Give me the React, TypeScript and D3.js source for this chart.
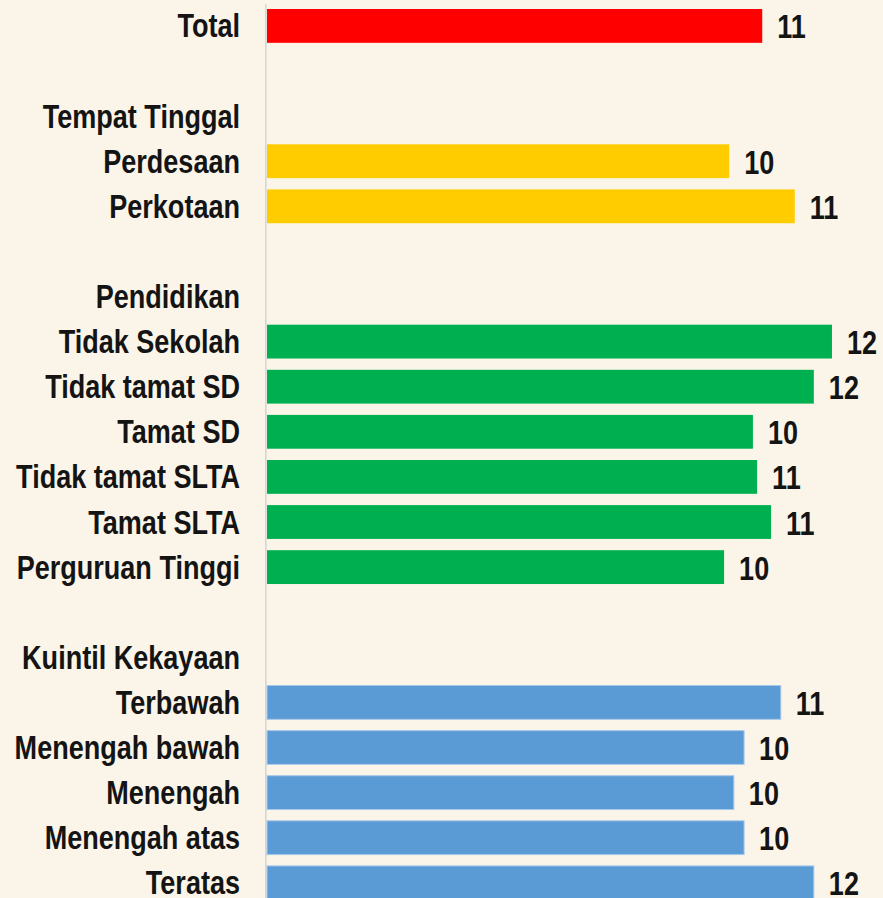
import React from "react";
import * as d3 from "d3";

const rowLabels = [
  "Total",
  "",
  "Tempat Tinggal",
  "Perdesaan",
  "Perkotaan",
  "",
  "Pendidikan",
  "Tidak Sekolah",
  "Tidak tamat SD",
  "Tamat SD",
  "Tidak tamat SLTA",
  "Tamat SLTA",
  "Perguruan Tinggi",
  "",
  "Kuintil Kekayaan",
  "Terbawah",
  "Menengah bawah",
  "Menengah",
  "Menengah atas",
  "Teratas",
];

// null = header / spacer rows (no bar)
const rowValues: (number | null)[] = [
  10.65, null, null, 9.94, 11.35, null, null,
  12.15, 11.76, 10.45, 10.54, 10.84, 9.83, null, null,
  11.05, 10.26, 10.04, 10.26, 11.76,
];

const rowGroups = [
  "total", "", "", "tempat", "tempat", "", "",
  "pend", "pend", "pend", "pend", "pend", "pend", "", "",
  "kuintil", "kuintil", "kuintil", "kuintil", "kuintil",
];

const groupColors: Record<string, string> = {
  total: "#FF0000",
  tempat: "#FFCC00",
  pend: "#00B050",
  kuintil: "#5B9BD5",
};

const W = 883;
const H = 898;
const X0 = 267;
const LABEL_X = 240;
const FONT = "'Liberation Sans', Arial, Helvetica, sans-serif";
const SQUEEZE = 0.82;
const FS = 33;

export default function App() {
  const idx = rowLabels.map((_, i) => String(i));
  const y = d3
    .scaleBand<string>()
    .domain(idx)
    .range([3.36, 3.36 + 45.1 * 20])
    .paddingInner(0.25)
    .paddingOuter(0.125);
  const x = d3.scaleLinear().domain([0, 13]).range([X0, X0 + 46.5 * 13]);
  const bw = y.bandwidth();

  return (
    <svg
      width={W}
      height={H}
      style={{ position: "absolute", left: 0, top: 0, display: "block" }}
    >
      <rect x={0} y={0} width={W} height={H} fill="#FBF5E9" />
      <line x1={265.8} x2={265.8} y1={4} y2={H} stroke="#D6D6D6" strokeWidth={1.6} />
      {rowLabels.map((lab, i) => {
        const yc = (y(String(i)) as number) + bw / 2;
        const v = rowValues[i];
        const g = rowGroups[i];
        return (
          <g key={i}>
            {lab && (
              <g transform={`translate(${LABEL_X},${yc + 11.5}) scale(${SQUEEZE},1)`}>
                <text
                  textAnchor="end"
                  fontFamily={FONT}
                  fontWeight="bold"
                  fontSize={FS}
                  fill="#141414"
                >
                  {lab}
                </text>
              </g>
            )}
            {v !== null && (
              <>
                <rect
                  x={x(0)}
                  y={y(String(i))}
                  width={x(v) - x(0)}
                  height={bw}
                  fill={groupColors[g]}
                  stroke={g === "kuintil" ? "#A9C9EA" : "none"}
                  strokeWidth={g === "kuintil" ? 1 : 0}
                />
                <g transform={`translate(${x(v) + 15},${yc + 12.5}) scale(${SQUEEZE},1)`}>
                  <text
                    textAnchor="start"
                    fontFamily={FONT}
                    fontWeight="bold"
                    fontSize={FS}
                    fill="#141414"
                  >
                    {d3.format(".0f")(v)}
                  </text>
                </g>
              </>
            )}
          </g>
        );
      })}
    </svg>
  );
}
